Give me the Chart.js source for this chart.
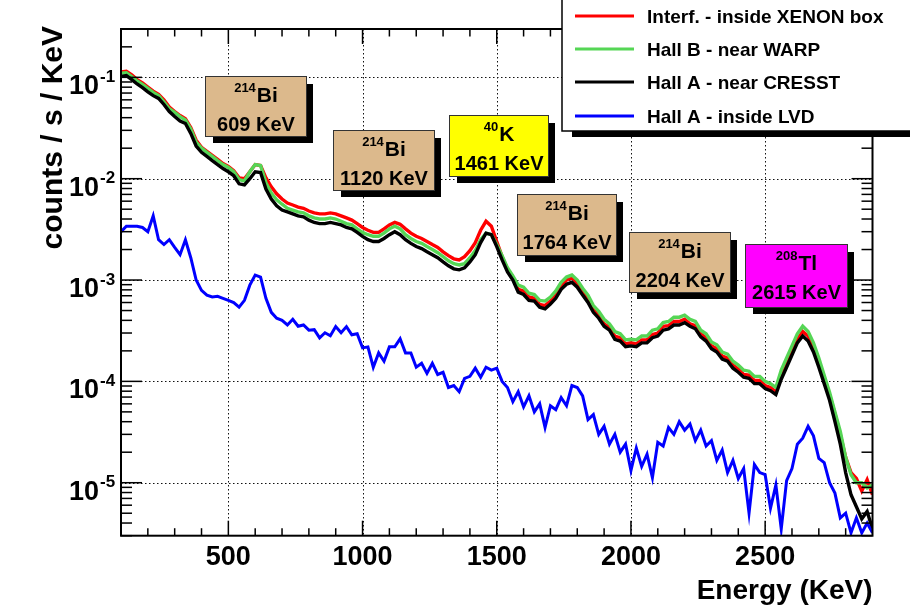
<!DOCTYPE html>
<html>
<head>
<meta charset="utf-8">
<script src="https://cdn.jsdelivr.net/npm/chart.js@4.4.1/dist/chart.umd.min.js"></script>
<style>
html,body{margin:0;padding:0;background:#fff;}
#wrap{width:910px;height:607px;position:relative;}
</style>
</head>
<body>
<div id="wrap"><canvas id="c" width="910" height="607"></canvas></div>
<script>
// ---- data ----
const energies = [
 100,120,140,160,180,200,220,240,260,280,
 300,320,340,360,380,400,420,440,460,480,
 500,520,540,560,580,600,620,640,660,680,
 700,720,740,760,780,800,820,840,860,880,
 900,920,940,960,980,1000,1020,1040,1060,1080,
 1100,1120,1140,1160,1180,1200,1220,1240,1260,1280,
 1300,1320,1340,1360,1380,1400,1420,1440,1460,1480,
 1500,1520,1540,1560,1580,1600,1620,1640,1660,1680,
 1700,1720,1740,1760,1780,1800,1820,1840,1860,1880,
 1900,1920,1940,1960,1980,2000,2020,2040,2060,2080,
 2100,2120,2140,2160,2180,2200,2220,2240,2260,2280,
 2300,2320,2340,2360,2380,2400,2420,2440,2460,2480,
 2500,2520,2540,2560,2580,2600,2620,2640,2660,2680,
 2700,2720,2740,2760,2780,2800,2820,2840,2860,2880,
 2900
];
const interfXenon = [
 1.13e-1,1.15e-1,1.06e-1,9.5e-2,8.8e-2,8.0e-2,7.3e-2,6.8e-2,6.0e-2,5.1e-2,
 4.6e-2,4.2e-2,3.9e-2,3.2e-2,2.4e-2,2.04e-2,1.86e-2,1.70e-2,1.55e-2,1.41e-2,
 1.32e-2,1.20e-2,1.02e-2,1.0e-2,1.17e-2,1.38e-2,1.35e-2,1.02e-2,8.3e-3,7.1e-3,
 6.3e-3,5.75e-3,5.5e-3,5.25e-3,5.1e-3,4.8e-3,4.6e-3,4.5e-3,4.5e-3,4.6e-3,
 4.5e-3,4.3e-3,4.1e-3,3.9e-3,3.6e-3,3.3e-3,3.1e-3,2.95e-3,2.95e-3,3.2e-3,
 3.5e-3,3.7e-3,3.55e-3,3.2e-3,2.9e-3,2.7e-3,2.57e-3,2.4e-3,2.24e-3,2.1e-3,
 1.9e-3,1.74e-3,1.62e-3,1.58e-3,1.7e-3,1.95e-3,2.34e-3,3.1e-3,3.8e-3,3.4e-3,
 2.4e-3,1.7e-3,1.29e-3,1.07e-3,8.1e-4,7.8e-4,6.8e-4,6.6e-4,5.75e-4,5.6e-4,
 6.2e-4,7.1e-4,8.7e-4,1.0e-3,1.05e-3,9.3e-4,7.8e-4,6.5e-4,5.1e-4,4.5e-4,
 3.7e-4,3.4e-4,2.8e-4,2.7e-4,2.34e-4,2.4e-4,2.34e-4,2.57e-4,2.57e-4,2.9e-4,
 3.0e-4,3.5e-4,3.55e-4,3.9e-4,3.9e-4,4.1e-4,3.7e-4,3.55e-4,2.95e-4,2.7e-4,
 2.24e-4,2.1e-4,1.78e-4,1.7e-4,1.45e-4,1.32e-4,1.17e-4,1.15e-4,1.02e-4,1.02e-4,
 9.1e-5,8.7e-5,7.9e-5,1.15e-4,1.51e-4,2.0e-4,2.6e-4,3.1e-4,2.8e-4,2.2e-4,
 1.58e-4,1.10e-4,7.4e-5,4.8e-5,3.0e-5,1.78e-5,1.26e-5,1.10e-5,8.3e-6,1.07e-5,
 7.6e-6
];
const hallBWarp = [
 1.10e-1,1.11e-1,1.02e-1,9.2e-2,8.5e-2,7.8e-2,7.1e-2,6.6e-2,5.75e-2,4.9e-2,
 4.5e-2,4.1e-2,3.8e-2,3.1e-2,2.3e-2,2.0e-2,1.82e-2,1.66e-2,1.51e-2,1.38e-2,
 1.29e-2,1.17e-2,9.8e-3,9.5e-3,1.17e-2,1.38e-2,1.35e-2,9.1e-3,7.2e-3,6.2e-3,
 5.6e-3,5.1e-3,4.9e-3,4.7e-3,4.6e-3,4.3e-3,4.1e-3,4.0e-3,4.0e-3,4.1e-3,
 4.0e-3,3.8e-3,3.6e-3,3.5e-3,3.2e-3,2.95e-3,2.8e-3,2.7e-3,2.7e-3,2.9e-3,
 3.2e-3,3.4e-3,3.2e-3,2.8e-3,2.57e-3,2.4e-3,2.3e-3,2.14e-3,2.0e-3,1.86e-3,
 1.7e-3,1.55e-3,1.45e-3,1.41e-3,1.45e-3,1.66e-3,1.95e-3,2.5e-3,2.9e-3,2.8e-3,
 2.24e-3,1.74e-3,1.32e-3,1.10e-3,8.9e-4,8.5e-4,7.4e-4,7.2e-4,6.3e-4,6.2e-4,
 6.8e-4,7.8e-4,9.5e-4,1.07e-3,1.12e-3,1.0e-3,8.3e-4,7.1e-4,5.6e-4,4.9e-4,
 4.1e-4,3.7e-4,3.1e-4,2.95e-4,2.57e-4,2.6e-4,2.57e-4,2.8e-4,2.8e-4,3.2e-4,
 3.3e-4,3.8e-4,3.9e-4,4.3e-4,4.3e-4,4.5e-4,4.1e-4,3.9e-4,3.2e-4,2.95e-4,
 2.45e-4,2.3e-4,1.95e-4,1.86e-4,1.58e-4,1.45e-4,1.29e-4,1.26e-4,1.12e-4,1.12e-4,
 1.0e-4,9.5e-5,8.7e-5,1.29e-4,1.70e-4,2.24e-4,2.95e-4,3.5e-4,3.1e-4,2.4e-4,
 1.70e-4,1.15e-4,7.8e-5,5.0e-5,3.2e-5,1.78e-5,1.20e-5,1.0e-5,1.0e-5,8.9e-6,
 9.5e-6
];
const hallACresst = [
 1.02e-1,1.04e-1,9.5e-2,8.6e-2,7.9e-2,7.2e-2,6.6e-2,6.2e-2,5.4e-2,4.6e-2,
 4.1e-2,3.7e-2,3.5e-2,2.8e-2,2.1e-2,1.82e-2,1.66e-2,1.51e-2,1.38e-2,1.26e-2,
 1.17e-2,1.07e-2,8.9e-3,8.7e-3,1.0e-2,1.17e-2,1.15e-2,7.9e-3,6.3e-3,5.4e-3,
 4.9e-3,4.7e-3,4.5e-3,4.3e-3,4.2e-3,3.9e-3,3.7e-3,3.6e-3,3.6e-3,3.7e-3,
 3.6e-3,3.5e-3,3.3e-3,3.2e-3,2.95e-3,2.7e-3,2.5e-3,2.4e-3,2.4e-3,2.57e-3,
 2.8e-3,3.0e-3,2.8e-3,2.5e-3,2.3e-3,2.14e-3,2.04e-3,1.9e-3,1.78e-3,1.66e-3,
 1.51e-3,1.38e-3,1.29e-3,1.26e-3,1.32e-3,1.51e-3,1.78e-3,2.34e-3,2.9e-3,2.8e-3,
 2.14e-3,1.58e-3,1.2e-3,1.0e-3,7.6e-4,7.2e-4,6.3e-4,6.2e-4,5.4e-4,5.2e-4,
 5.8e-4,6.6e-4,8.1e-4,9.1e-4,9.5e-4,8.5e-4,7.1e-4,6.0e-4,4.8e-4,4.2e-4,
 3.5e-4,3.2e-4,2.6e-4,2.5e-4,2.2e-4,2.24e-4,2.2e-4,2.4e-4,2.4e-4,2.7e-4,
 2.8e-4,3.2e-4,3.3e-4,3.6e-4,3.6e-4,3.8e-4,3.5e-4,3.3e-4,2.75e-4,2.5e-4,
 2.1e-4,1.95e-4,1.66e-4,1.58e-4,1.35e-4,1.23e-4,1.10e-4,1.07e-4,9.5e-5,9.5e-5,
 8.5e-5,8.1e-5,7.4e-5,1.05e-4,1.38e-4,1.82e-4,2.4e-4,2.8e-4,2.5e-4,1.95e-4,
 1.38e-4,9.5e-5,6.5e-5,4.0e-5,2.4e-5,1.26e-5,7.6e-6,5.8e-6,4.4e-6,5.2e-6,
 3.5e-6
];
const hallALvd = [
 3.0e-3,3.4e-3,3.4e-3,3.4e-3,3.3e-3,3.0e-3,4.3e-3,2.5e-3,2.24e-3,2.5e-3,
 2.1e-3,1.78e-3,2.5e-3,1.66e-3,1.0e-3,7.9e-4,7.1e-4,6.8e-4,6.9e-4,6.6e-4,
 6.3e-4,6.0e-4,5.4e-4,6.3e-4,8.9e-4,1.12e-3,1.07e-3,6.6e-4,4.8e-4,4.2e-4,
 4.0e-4,3.6e-4,4.1e-4,3.5e-4,3.6e-4,3.2e-4,3.24e-4,2.69e-4,3.02e-4,2.82e-4,
 3.47e-4,3.02e-4,3.47e-4,2.88e-4,2.95e-4,2.14e-4,2.19e-4,1.38e-4,1.91e-4,1.58e-4,
 2.19e-4,2.19e-4,2.63e-4,1.91e-4,1.91e-4,1.38e-4,1.51e-4,1.20e-4,1.51e-4,1.17e-4,
 1.23e-4,8.7e-5,9.1e-5,7.9e-5,1.07e-4,1.12e-4,1.35e-4,1.10e-4,1.38e-4,1.29e-4,
 1.35e-4,1.0e-4,8.7e-5,6.3e-5,7.9e-5,5.6e-5,7.2e-5,5.0e-5,6.0e-5,3.5e-5,
 5.75e-5,5.25e-5,6.9e-5,5.75e-5,9.1e-5,8.7e-5,7.2e-5,4.2e-5,4.7e-5,3.0e-5,
 3.6e-5,2.4e-5,3.0e-5,2.0e-5,2.4e-5,1.32e-5,2.2e-5,1.45e-5,1.91e-5,1.12e-5,
 2.5e-5,2.3e-5,3.5e-5,3.0e-5,4.0e-5,3.3e-5,3.8e-5,2.6e-5,3.3e-5,2.3e-5,
 2.6e-5,1.66e-5,2.1e-5,1.26e-5,1.66e-5,1.10e-5,1.38e-5,5.0e-6,1.51e-5,1.26e-5,
 1.20e-5,5.6e-6,9.5e-6,3.5e-6,1.05e-5,1.38e-5,2.4e-5,2.75e-5,3.6e-5,2.9e-5,
 1.74e-5,1.58e-5,1.0e-5,7.9e-6,4.5e-6,5.0e-6,3.2e-6,4.5e-6,3.2e-6,4.0e-6,
 3.2e-6
];
const seriesNames = ['Interf. - inside XENON box','Hall B - near WARP','Hall A - near CRESST','Hall A - inside LVD'];
const xTickLabels = [500, 1000, 1500, 2000, 2500];
const yTickExponents = [-1, -2, -3, -4, -5];
const peakIsotopes = ['214', '214', '40', '214', '214', '208'];
const peakElements = ['Bi', 'Bi', 'K', 'Bi', 'Bi', 'Tl'];
const peakEnergies = ['609 KeV', '1120 KeV', '1461 KeV', '1764 KeV', '2204 KeV', '2615 KeV'];
const xTitle = 'Energy (KeV)';
const yTitle = 'counts / s / KeV';

// ---- styles / layout ----
const seriesColors = ['#ff0000', '#55d655', '#000000', '#0000ff'];
const seriesWidths = [3.4, 3.4, 3.4, 3];
const drawOrder = [4, 3, 2, 1];
const boxRects = [[205,76,102,61],[333,130,102,61],[449,115,100,62],[517,194,100,62],[629,232,102,61],[745,244,103,64]];
const boxFills = ['#dcb98c','#dcb98c','#ffff00','#dcb98c','#dcb98c','#ff00ff'];
const FONT = '"Liberation Sans", Arial, Helvetica, sans-serif';

function seg(ctx, x1, y1, x2, y2) { ctx.beginPath(); ctx.moveTo(x1, y1); ctx.lineTo(x2, y2); ctx.stroke(); }

const rootStyle = {
  id: 'rootStyle',
  beforeDatasetsDraw(chart) {
    const { ctx, chartArea: a, scales: { x, y } } = chart;
    ctx.save();
    ctx.strokeStyle = '#111';
    ctx.lineWidth = 1;
    ctx.setLineDash([1.5, 2.5]);
    xTickLabels.forEach(v => {
      const px = Math.round(x.getPixelForValue(v)) + 0.5;
      seg(ctx, px, a.top, px, a.bottom);
    });
    yTickExponents.forEach(e => {
      const py = Math.round(y.getPixelForValue(Math.pow(10, e))) + 0.5;
      seg(ctx, a.left, py, a.right, py);
    });
    ctx.restore();
  },
  afterDatasetsDraw(chart) {
    const { ctx, chartArea: a, scales: { x, y } } = chart;
    ctx.save();
    ctx.setLineDash([]);
    ctx.strokeStyle = '#000';
    // ticks x (bottom & top)
    ctx.lineWidth = 1.5;
    for (let v = 200; v < 2900; v += 100) {
      const px = x.getPixelForValue(v);
      const major = v % 500 === 0;
      const len = major ? 15 : 7.5;
      seg(ctx, px, a.bottom, px, a.bottom - len);
      seg(ctx, px, a.top, px, a.top + len);
    }
    // ticks y (left & right)
    for (let d = -6; d <= -1; d++) {
      for (let m = 1; m <= 9; m++) {
        const v = m * Math.pow(10, d);
        if (v < 3e-6 * 0.999 || v > 0.3 * 1.001) continue;
        const py = y.getPixelForValue(v);
        const len = m === 1 ? 21 : 11;
        seg(ctx, a.left, py, a.left + len, py);
        seg(ctx, a.right, py, a.right - len, py);
      }
    }
    // frame
    ctx.lineWidth = 2;
    ctx.strokeRect(a.left, a.top, a.right - a.left, a.bottom - a.top);

    // tick labels
    ctx.fillStyle = '#000';
    ctx.font = 'bold 27px ' + FONT;
    ctx.textAlign = 'center';
    ctx.textBaseline = 'alphabetic';
    xTickLabels.forEach(v => {
      ctx.fillText(String(v), x.getPixelForValue(v), 565);
    });
    yTickExponents.forEach(e => {
      const py = y.getPixelForValue(Math.pow(10, e));
      ctx.font = 'bold 27px ' + FONT;
      ctx.textAlign = 'right';
      ctx.fillText('10', 99, py + 17);
      ctx.font = 'bold 17px ' + FONT;
      ctx.textAlign = 'left';
      ctx.fillText(String(e), 100, py + 4.5);
    });

    // axis titles
    ctx.font = 'bold 28px ' + FONT;
    ctx.textAlign = 'right';
    ctx.fillText(xTitle, a.right, 599);
    ctx.save();
    ctx.font = 'bold 30px ' + FONT;
    ctx.translate(62, a.top - 3);
    ctx.rotate(-Math.PI / 2);
    ctx.textAlign = 'right';
    ctx.fillText(yTitle, 0, 0);
    ctx.restore();

    // peak annotation boxes
    boxRects.forEach((r, i) => {
      const [bx, by, bw, bh] = r;
      ctx.fillStyle = '#000';
      ctx.fillRect(bx + 8, by + 8, bw - 2, bh - 2);
      ctx.fillStyle = boxFills[i];
      ctx.fillRect(bx, by, bw, bh);
      ctx.strokeStyle = '#333';
      ctx.lineWidth = 1;
      ctx.strokeRect(bx + 0.5, by + 0.5, bw - 1, bh - 1);
      ctx.fillStyle = '#000';
      const cx = bx + bw / 2;
      ctx.font = 'bold 13px ' + FONT;
      const wIso = ctx.measureText(peakIsotopes[i]).width;
      ctx.font = 'bold 21px ' + FONT;
      const wEl = ctx.measureText(peakElements[i]).width;
      const startX = cx - (wIso + 1 + wEl) / 2;
      ctx.textAlign = 'left';
      ctx.font = 'bold 13px ' + FONT;
      ctx.fillText(peakIsotopes[i], startX, by + 16);
      ctx.font = 'bold 21px ' + FONT;
      ctx.fillText(peakElements[i], startX + wIso + 1, by + 26);
      ctx.font = 'bold 20px ' + FONT;
      ctx.textAlign = 'center';
      ctx.fillText(peakEnergies[i], cx, by + 55);
    });

    // legend
    ctx.fillStyle = '#000';
    ctx.fillRect(572, 130, 340, 7);
    ctx.fillStyle = '#fff';
    ctx.fillRect(562, -2, 350, 133);
    ctx.strokeStyle = '#000';
    ctx.lineWidth = 1.5;
    ctx.strokeRect(562, -2, 352, 133);
    const rowsY = [16, 49, 82, 116];
    seriesNames.forEach((name, i) => {
      ctx.strokeStyle = seriesColors[i];
      ctx.lineWidth = 3;
      seg(ctx, 575, rowsY[i], 634, rowsY[i]);
      ctx.fillStyle = '#000';
      ctx.font = 'bold 19px ' + FONT;
      ctx.textAlign = 'left';
      ctx.fillText(name, 647, rowsY[i] + 7);
    });
    ctx.restore();
  }
};

const seriesData = [interfXenon, hallBWarp, hallACresst, hallALvd];
const datasets = seriesData.map((vals, i) => ({
  label: seriesNames[i],
  data: energies.map((e, k) => ({ x: e, y: vals[k] })),
  borderColor: seriesColors[i],
  backgroundColor: seriesColors[i],
  borderWidth: seriesWidths[i],
  pointRadius: 0,
  tension: 0,
  fill: false,
  order: drawOrder[i]
}));

new Chart(document.getElementById('c'), {
  type: 'line',
  data: { datasets },
  options: {
    responsive: false,
    animation: false,
    devicePixelRatio: 1,
    layout: { padding: { left: 121, right: 37.5, top: 29, bottom: 71.3 } },
    plugins: { legend: { display: false }, tooltip: { enabled: false } },
    scales: {
      x: { type: 'linear', min: 100, max: 2900, display: false },
      y: { type: 'logarithmic', min: 3e-6, max: 0.3, display: false }
    }
  },
  plugins: [rootStyle]
});
</script>
</body>
</html>
